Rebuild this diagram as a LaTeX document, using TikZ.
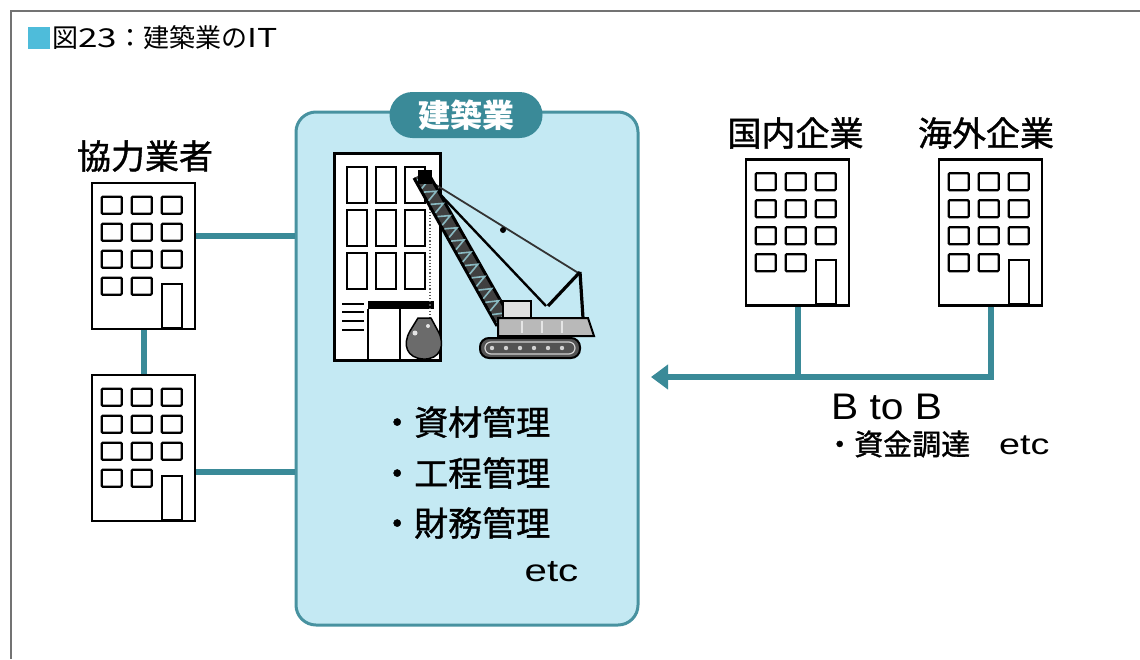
\documentclass[tikz,border=0pt]{standalone}
\usepackage{fontspec}
\usepackage{graphicx}
\newfontfamily\jp[FakeBold=1.2]{Noto Sans CJK JP}
\newfontfamily\jpt{Noto Sans CJK JP}
\newfontfamily\lat{Liberation Sans}
\usetikzlibrary{arrows.meta,calc}
\definecolor{linkteal}{RGB}{58,138,152}
\definecolor{boxfill}{RGB}{196,233,243}
\definecolor{boxedge}{RGB}{72,146,160}
\definecolor{sqcyan}{RGB}{78,188,218}
\definecolor{framegray}{RGB}{115,115,115}

\tikzset{
  link/.style={linkteal,line width=6pt},
  office/.style={draw=black,line width=2.6pt,fill=white,minimum width=103pt,minimum height=146pt,inner sep=0pt},
  win/.style={draw=black,line width=2.2pt,rounded corners=1pt},
  cjklabel/.style={font=\jp\fontsize{34}{36}\selectfont,inner sep=0pt},
  winset/.pic={
    \foreach \r in {0,1,2}{\foreach \c in {0,1,2}{\draw[win] (11+30*\c,15+27*\r) rectangle ++(20,17);}}
    \foreach \c in {0,1}{\draw[win] (11+30*\c,96) rectangle ++(20,17);}
    \draw[win,rounded corners=0pt] (71,102) rectangle (91,146);
  }
}

\begin{document}
\begin{tikzpicture}[x=1pt,y=-1pt]
\useasboundingbox (0,0) rectangle (1140,659);

% outer frame (top and left rules)
\draw[framegray,line width=2pt] (10,11) -- (1140,11);
\draw[framegray,line width=2pt] (11,11) -- (11,659);

% title
\node[fill=sqcyan,minimum size=22pt,inner sep=0pt] (sq) at (39,38) {};
\node[anchor=west,inner sep=0pt,font=\jpt\fontsize{26}{28}\selectfont] (title) at (52,38) {図\scalebox{1.35}[1]{23}：建築業の\scalebox{1.3}[1]{IT}};

% construction company panel
\node[draw=boxedge,line width=3pt,fill=boxfill,rounded corners=20pt,minimum width=342pt,minimum height=513pt] (box) at (467,368.5) {};
\node[fill=linkteal,rounded corners=23pt,minimum width=153pt,minimum height=46pt,text=white,inner sep=0pt,font=\jpt\bfseries\fontsize{32}{34}\selectfont] (sector) at (466,115) {建築業};

% site building
\draw[line width=3pt,fill=white] (334,153) rectangle (440,360);
\foreach \c in {0,1,2}{\foreach \r in {0,1,2}{\draw[line width=2.4pt] (347+29*\c,167+43*\r) rectangle ++(20,36);}}
\fill (368,301) rectangle (434,309);
\draw[line width=2.4pt] (368,309) -- (368,360);
\draw[line width=1.5pt] (400,309) -- (400,360);
\foreach \yy in {304,312,321,330}{\draw[line width=2pt] (342,\yy) -- (364,\yy);}

% crawler crane
\draw[gray!70!black,line width=1.2pt,dotted] (430,186) -- (430,320);
\draw[line width=1.8pt,black!80] (428,180) -- (580,274);
\fill[black] (503,230) circle (3pt);
\draw[line width=2.4pt] (436,190) -- (546,306);
\fill[black!75] (414,178) -- (427,171) -- (511,319) -- (497,326) -- cycle;
\draw[line width=3pt] (414,178) -- (497,326);
\draw[line width=3pt] (427,171) -- (511,319);
\foreach \t in {0,1,...,11}{
  \draw[linkteal!60,line width=1.6pt] ($(416,178)!\t/12+0.15/12!(498,325)$) -- ($(426,173)!\t/12+0.5/12!(509,319)$) -- ($(416,178)!\t/12+0.85/12!(498,325)$);
}
\fill[black] (418,170) rectangle (432,184);
\draw[line width=3.2pt] (580,272) -- (583,318);
\draw[line width=3.2pt] (580,272) -- (548,306);
\draw[line width=2pt,fill=gray!25] (503,301) rectangle (531,318);
\draw[line width=2pt,fill=gray!55] (498,318) -- (588,318) -- (594,336) -- (498,336) -- cycle;
\foreach \xx in {522,542,562}{\draw[gray!20,line width=1.5pt] (\xx,321) -- (\xx,333);}
\draw[line width=2pt,fill=gray!65!black,rounded corners=9pt] (480,338) rectangle (580,358);
\draw[gray!35,line width=1.2pt,rounded corners=6pt] (485,342) rectangle (575,354);
\foreach \xx in {492,506,520,534,548,562}{\fill[gray!35] (\xx,348) circle (2.2pt);}

% clamshell bucket
\draw[line width=1.5pt,fill=gray!55!black!80] (418,318) -- (431,318) -- (438,331) .. controls (446,345) and (440,360) .. (423,359) .. controls (407,358) and (402,345) .. (410,331) -- cycle;
\fill[gray!20] (415,333) circle (2.5pt);
\fill[gray!20] (428,326) circle (2pt);

% management items
\node[cjklabel,anchor=west] (m1) at (380,422) {・資材管理};
\node[cjklabel,anchor=west] (m2) at (380,473) {・工程管理};
\node[cjklabel,anchor=west] (m3) at (380,523) {・財務管理};
\node[inner sep=0pt,font=\lat\fontsize{31}{33}\selectfont] (m4) at (551.5,572) {\scalebox{1.3}[1]{etc}};

% partner companies
\node[cjklabel] (lblp) at (145,156) {協力業者};
\node[office] (p1) at (143.5,256) {};
\node[office] (p2) at (143.5,448) {};
\pic at (p1.north west) {winset};
\pic at (p2.north west) {winset};
\draw[link] (p1.south) -- (p2.north);
\draw[link] ([yshift=20pt]p1.east) -- ([yshift=20pt]p1.east -| box.west);
\draw[link] ([yshift=-24pt]p2.east) -- ([yshift=-24pt]p2.east -| box.west);

% domestic and overseas companies
\node[cjklabel] (lbld) at (795.5,133) {国内企業};
\node[cjklabel] (lblo) at (986,133) {海外企業};
\node[office] (dom) at (797.5,232.5) {};
\node[office] (ovs) at (990.5,232.5) {};
\pic at (dom.north west) {winset};
\pic at (ovs.north west) {winset};
\coordinate (bbtip) at (651,377);
\draw[link] (dom.south) -- (dom.south |- bbtip);
\draw[link,-{Triangle[length=17pt,width=24pt]}] (ovs.south) |- (bbtip);

% B to B label
\node[inner sep=0pt,font=\lat\fontsize{37}{39}\selectfont] (btob) at (886.5,406.5) {\scalebox{1.1}[1]{B to B}};
\node[anchor=west,inner sep=0pt] (fund) at (825,444) {{\jp\fontsize{29}{31}\selectfont ・資金調達　}{\lat\fontsize{29}{31}\selectfont\scalebox{1.3}[1]{etc}}};
\end{tikzpicture}
\end{document}
